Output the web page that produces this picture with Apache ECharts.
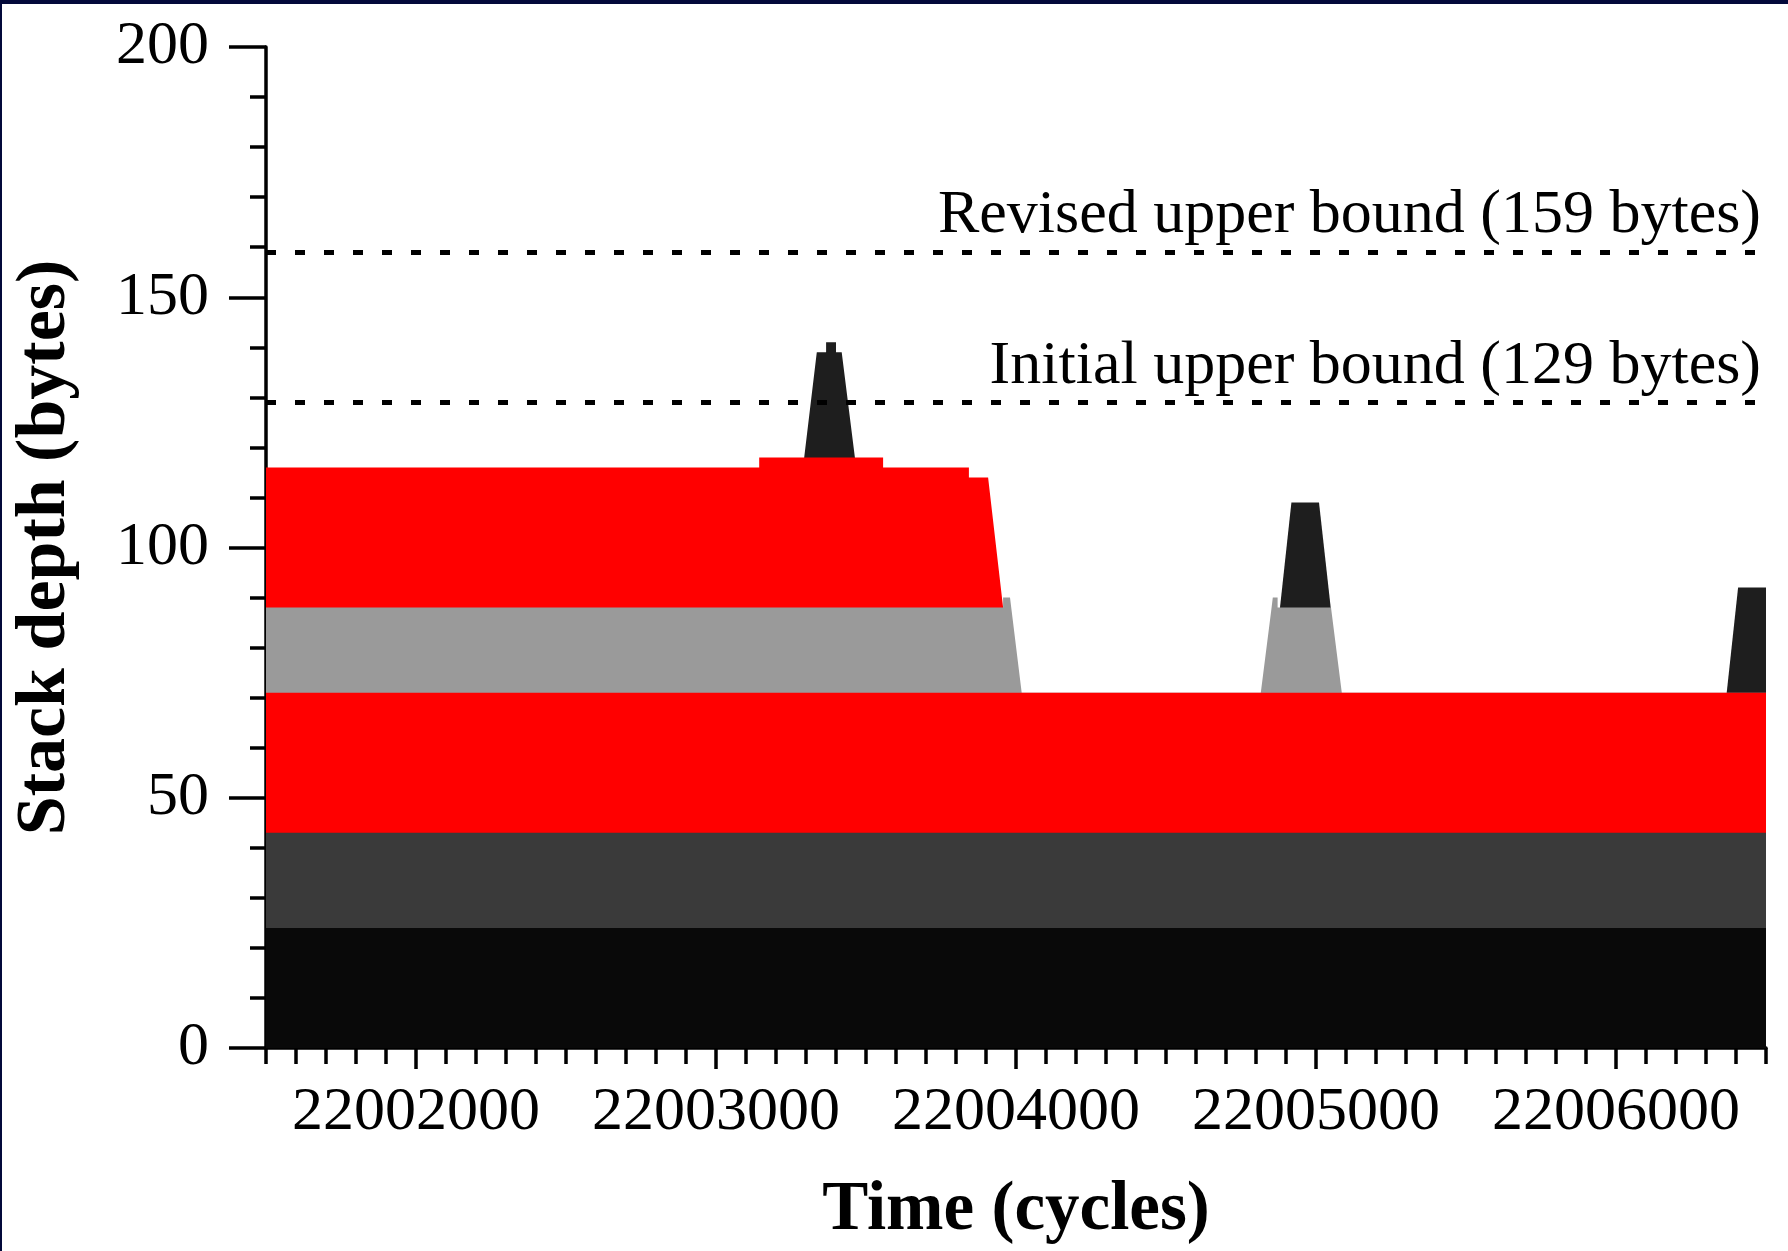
<!DOCTYPE html>
<html>
<head>
<meta charset="utf-8">
<script src="https://cdn.jsdelivr.net/npm/echarts@6/dist/echarts.min.js"></script>
<style>
  html, body { margin: 0; padding: 0; background: #03093a; }
  #chart { position: absolute; left: 2px; top: 4px; width: 1786px; height: 1247px; background: #ffffff; }
</style>
</head>
<body>
<div id="chart"></div>
<script>
// Time window (cycles) and stack depth range (bytes)
const timeRange = [22001500, 22006500];
const depthRange = [0, 200];
const majorTimeTicks = [22002000, 22003000, 22004000, 22005000, 22006000];

// Cumulative stack depth at the top of each frame, sampled over time.
// Frames that span the whole window
const fullTime = [22001500, 22006500];
const frame1Depth = [24, 24];
const frame2Depth = [43, 43];
const frame3Depth = [71, 71];

// Fourth frame (grey): long call on the left, short call near 22005000
const frame4Time  = [22001500, 22003957, 22003957, 22003980, 22004019, 22004816, 22004852, 22004856, 22004856, 22004872, 22004872, 22005050, 22005086, 22006500];
const frame4Depth = [88, 88, 90, 90, 71, 71, 88, 88, 90, 90, 88, 88, 71, 71];

// Fifth frame (red, upper)
const frame5Time  = [22001500, 22003144, 22003144, 22003557, 22003557, 22003843, 22003843, 22003907, 22003957];
const frame5Depth = [116, 116, 118, 118, 116, 116, 114, 114, 88];

// Short-lived deepest frames (interrupt-like spikes)
const spikeATime  = [22003294, 22003336, 22003367, 22003367, 22003400, 22003400, 22003419, 22003463];
const spikeADepth = [118, 139, 139, 141, 141, 139, 139, 118];
const spikeBTime  = [22004880, 22004918, 22005010, 22005049];
const spikeBDepth = [88, 109, 109, 88];
const spikeCTime  = [22006369, 22006407, 22006500];
const spikeCDepth = [71, 92, 92];

// Reference bounds
const boundValues = [159, 129];
const boundLabels = ['Revised upper bound (159 bytes)', 'Initial upper bound (129 bytes)'];

const FONT = 'Liberation Serif';

function pairs(t, d) { return t.map((x, i) => [x, d[i]]); }

function band(name, t, d, color) {
  return {
    name: name,
    type: 'line',
    xAxisIndex: 0,
    yAxisIndex: 0,
    data: pairs(t, d),
    showSymbol: false,
    symbol: 'none',
    smooth: false,
    lineStyle: { width: 0 },
    areaStyle: { color: color, opacity: 1 },
    silent: true
  };
}

// Painted from the deepest boundary down, so each shallower frame covers what lies beneath it
const series = [
  band('spikeA', spikeATime, spikeADepth, '#1e1e1e'),
  band('spikeB', spikeBTime, spikeBDepth, '#1e1e1e'),
  band('spikeC', spikeCTime, spikeCDepth, '#1e1e1e'),
  band('frame5', frame5Time, frame5Depth, '#ff0000'),
  band('frame4', frame4Time, frame4Depth, '#9a9a9a'),
  band('frame3', fullTime, frame3Depth, '#ff0000'),
  band('frame2', fullTime, frame2Depth, '#3a3a3a'),
  band('frame1', fullTime, frame1Depth, '#090909'),
  {
    name: 'bounds',
    type: 'line',
    xAxisIndex: 0,
    yAxisIndex: 0,
    data: [],
    z: 5,
    markLine: {
      silent: true,
      symbol: ['none', 'none'],
      animation: false,
      lineStyle: { color: '#000', width: 5, type: [10, 19], cap: 'butt' },
      label: {
        position: 'insideEndTop',
        formatter: p => p.name,
        fontFamily: FONT,
        fontSize: 62,
        color: '#000',
        distance: 5
      },
      data: boundValues.map((v, i) => ({ name: boundLabels[i], yAxis: v }))
    }
  }
];

const gridRect = { left: 264, top: 43, right: 22, bottom: 203 };
const axisLine = { show: true, lineStyle: { color: '#000', width: 3.5 } };

const option = {
  animation: false,
  backgroundColor: '#ffffff',
  grid: [
    Object.assign({}, gridRect),
    Object.assign({}, gridRect)
  ],
  xAxis: [
    {
      // minor ticks every 100 cycles
      type: 'value', gridIndex: 0,
      min: timeRange[0], max: timeRange[1], interval: 100,
      axisLine: axisLine,
      axisTick: { show: true, inside: false, length: 16, lineStyle: { color: '#000', width: 3.5 } },
      axisLabel: { show: false },
      splitLine: { show: false }
    },
    {
      // major ticks and labels every 1000 cycles
      type: 'value', gridIndex: 1,
      min: timeRange[0], max: timeRange[1],
      axisLine: { show: false },
      axisTick: { show: true, inside: false, length: 37, customValues: majorTimeTicks, lineStyle: { color: '#000', width: 3.5 } },
      axisLabel: {
        show: true, customValues: majorTimeTicks, margin: 50,
        fontFamily: FONT, fontSize: 62, color: '#000',
        formatter: v => String(v)
      },
      splitLine: { show: false },
      name: 'Time (cycles)',
      nameLocation: 'middle',
      nameGap: 145,
      nameTextStyle: { fontFamily: FONT, fontSize: 69, fontWeight: 'bold', color: '#000' }
    }
  ],
  yAxis: [
    {
      type: 'value', gridIndex: 0,
      min: depthRange[0], max: depthRange[1], interval: 50,
      axisLine: axisLine,
      axisTick: { show: true, inside: false, length: 37, lineStyle: { color: '#000', width: 3.5 } },
      minorTick: { show: true, splitNumber: 5, length: 16, lineStyle: { color: '#000', width: 3.5 } },
      axisLabel: { fontFamily: FONT, fontSize: 62, color: '#000', margin: 57 },
      splitLine: { show: false },
      minorSplitLine: { show: false },
      name: 'Stack depth (bytes)',
      nameLocation: 'middle',
      nameGap: 185,
      nameTextStyle: { fontFamily: FONT, fontSize: 70, fontWeight: 'bold', color: '#000' }
    },
    {
      type: 'value', gridIndex: 1,
      min: depthRange[0], max: depthRange[1],
      show: false
    }
  ],
  series: series
};

const chart = echarts.init(document.getElementById('chart'), null, { renderer: 'canvas' });
chart.setOption(option);
</script>
</body>
</html>
